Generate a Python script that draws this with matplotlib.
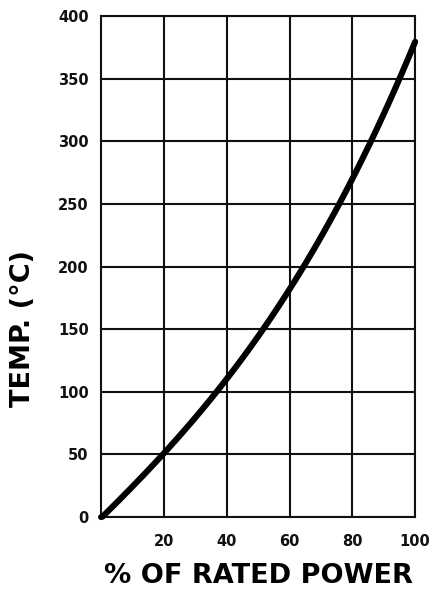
import matplotlib
matplotlib.use("Agg")
import matplotlib.pyplot as plt
import numpy as np

power = [0, 10, 20, 30, 40, 50, 60, 70, 80, 90, 100]
temp = [0, 24, 50, 79, 110, 145, 184, 224, 268, 320, 381]
x_ticks = [20, 40, 60, 80, 100]
y_ticks = [0, 50, 100, 150, 200, 250, 300, 350, 400]

plt.rcParams['font.family'] = ['DejaVu Sans']

fig = plt.figure(figsize=(4.32, 5.91), dpi=100)
ax = fig.add_axes([0.234, 0.125, 0.727, 0.848])

# smooth curve through the read points
xs = np.linspace(0, 100, 201)
coef = np.polyfit(power, temp, 3)
ys = np.polyval(coef, xs)
ys[0] = 0
ax.plot(xs, ys, color='black', lw=4.4, solid_capstyle='round', zorder=3, clip_on=False)

ax.set_xlim(0, 100)
ax.set_ylim(0, 400)
ax.set_xticks(x_ticks)
ax.set_yticks(y_ticks)
ax.grid(True, color='#111111', lw=1.5)
for s in ax.spines.values():
    s.set_linewidth(1.5)
    s.set_color('#111111')
ax.tick_params(length=0, labelsize=10.5, pad=9, colors='#111111')
ax.tick_params(axis='x', pad=12)
for lab in ax.get_xticklabels() + ax.get_yticklabels():
    lab.set_fontweight('bold')

ax.set_xlabel('% OF RATED POWER', fontsize=19.5, fontweight='heavy', va='center')
ax.xaxis.set_label_coords(0.5, -0.117)
ax.set_ylabel('TEMP. (°C)', fontsize=19.5, fontweight='heavy', va='center')
ax.yaxis.set_label_coords(-0.25, 0.377)

fig.savefig('out.png', dpi=100, facecolor='white')
